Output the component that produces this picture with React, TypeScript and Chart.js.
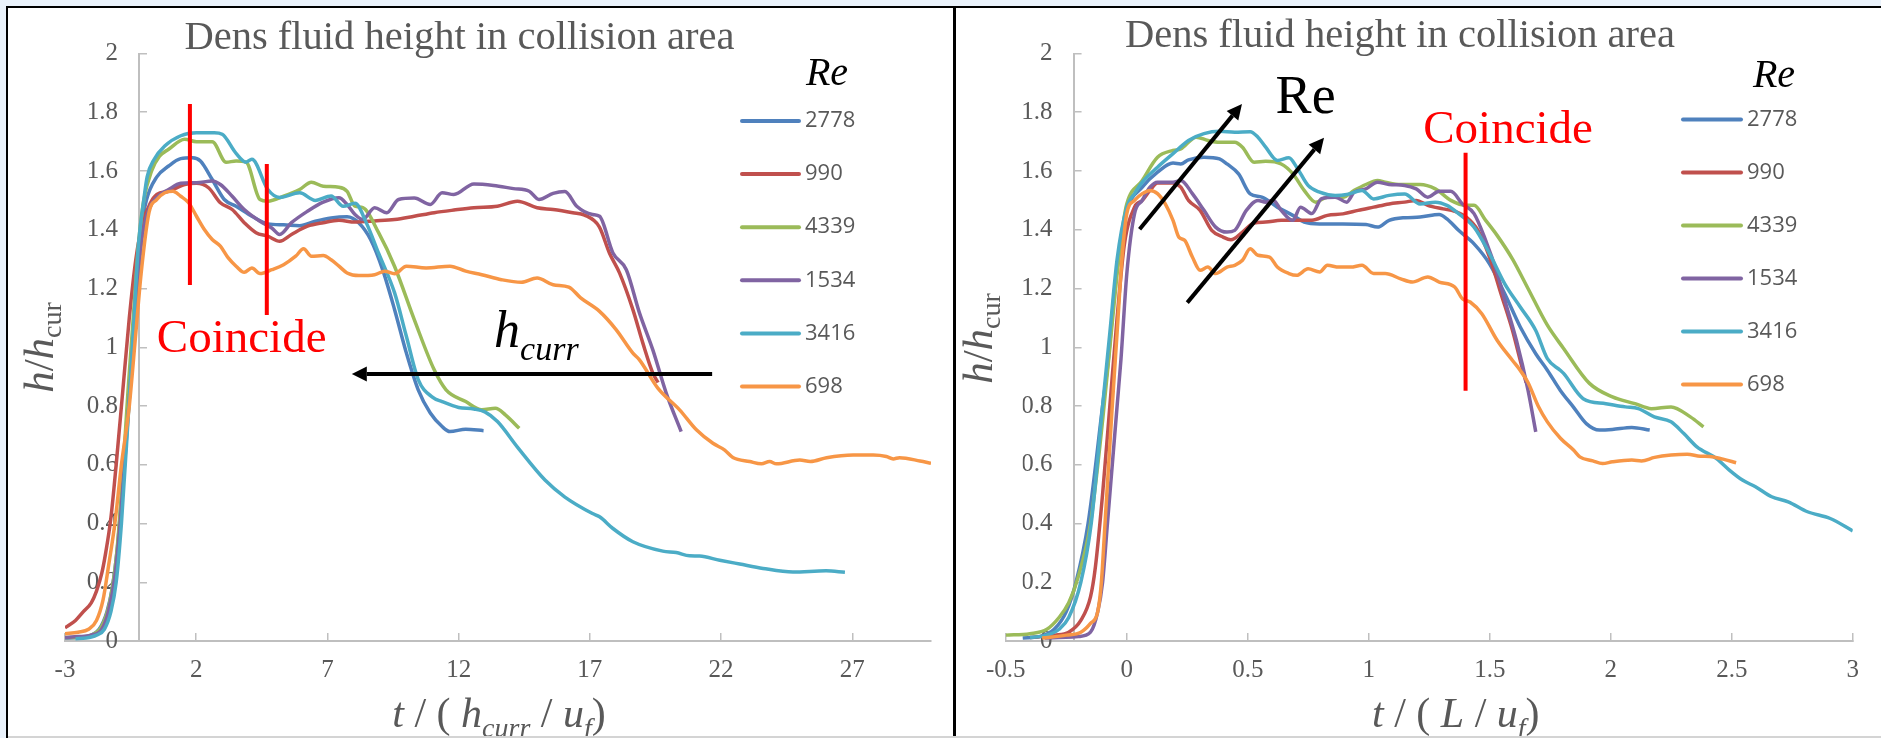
import React, { useEffect, useRef } from "react";
import { Chart, registerables } from "chart.js";

Chart.register(...registerables);

// ---------- data ----------
const SERIES_LABELS = ["2778", "990", "4339", "1534", "3416", "698"];
const SERIES_COLORS = ["#4f81bd", "#c0504d", "#9bbb59", "#8064a2", "#4bacc6", "#f79646"];

const Y_TICKS = [0, 0.2, 0.4, 0.6, 0.8, 1, 1.2, 1.4, 1.6, 1.8, 2];
const X_TICKS_LEFT = [-3, 2, 7, 12, 17, 22, 27];
const X_TICKS_RIGHT = [-0.5, 0, 0.5, 1, 1.5, 2, 2.5, 3];

// Left panel: x = t / (h_curr / u_f), y = h / h_cur
const L_2778: [number, number][] = [
  [-3, 0.01], [-2.5, 0.012], [-2, 0.02], [-1.7, 0.04], [-1.4, 0.1], [-1.2, 0.18], [-1.0, 0.32], [-0.8, 0.55],
  [-0.6, 0.8], [-0.4, 1.05], [-0.25, 1.25], [-0.1, 1.4], [0.1, 1.5], [0.5, 1.58], [0.95, 1.617], [1.41, 1.642],
  [1.86, 1.645], [2.16, 1.634], [2.61, 1.571], [3.07, 1.503], [3.52, 1.48], [4.12, 1.446], [4.73, 1.42],
  [5.33, 1.417], [5.94, 1.414], [6.54, 1.429], [7.14, 1.44], [7.75, 1.444], [8.2, 1.423], [8.65, 1.366],
  [9.1, 1.265], [9.56, 1.128], [10.01, 0.98], [10.46, 0.855], [10.92, 0.776], [11.37, 0.73], [11.67, 0.713],
  [12.27, 0.721], [12.95, 0.716],
];
const L_990: [number, number][] = [
  [-3, 0.045], [-2.6, 0.07], [-2.3, 0.1], [-2.0, 0.13], [-1.8, 0.17], [-1.6, 0.23], [-1.45, 0.3], [-1.25, 0.42],
  [-1.05, 0.6], [-0.8, 0.85], [-0.55, 1.1], [-0.3, 1.3], [-0.05, 1.42], [0.25, 1.49], [0.5, 1.52], [0.95, 1.531],
  [1.56, 1.554], [2.01, 1.558], [2.47, 1.543], [2.92, 1.492], [3.37, 1.469], [3.83, 1.424], [4.28, 1.39],
  [4.73, 1.378], [5.18, 1.361], [5.63, 1.384], [6.24, 1.412], [6.84, 1.424], [7.44, 1.432], [8.05, 1.426],
  [8.8, 1.43], [9.56, 1.435], [10.31, 1.446], [11.07, 1.458], [11.82, 1.467], [12.58, 1.475], [13.48, 1.48],
  [14.24, 1.497], [14.99, 1.475], [15.6, 1.469], [16.35, 1.458], [16.8, 1.45], [17.36, 1.41], [17.75, 1.32],
  [18.13, 1.253], [18.64, 1.128], [19.02, 1.014], [19.4, 0.912], [19.6, 0.88],
];
const L_4339: [number, number][] = [
  [-3, 0.012], [-2.5, 0.012], [-2, 0.02], [-1.6, 0.05], [-1.3, 0.13], [-1.05, 0.28], [-0.85, 0.5], [-0.6, 0.85],
  [-0.4, 1.1], [-0.2, 1.35], [0.0, 1.5], [0.3, 1.6], [0.6, 1.65], [0.95, 1.674], [1.56, 1.708], [2.01, 1.7],
  [2.61, 1.7], [3.14, 1.63], [3.52, 1.634], [3.9, 1.63], [4.43, 1.503], [4.73, 1.497], [5.33, 1.514],
  [5.94, 1.537], [6.39, 1.562], [6.84, 1.548], [7.44, 1.545], [7.75, 1.531], [8.05, 1.48], [8.35, 1.475],
  [8.95, 1.39], [9.56, 1.275], [10.31, 1.094], [11.07, 0.923], [11.52, 0.855], [12.27, 0.815], [12.88, 0.787],
  [13.4, 0.792], [13.78, 0.77], [14.31, 0.724],
];
const L_1534: [number, number][] = [
  [-3, 0.012], [-2.5, 0.015], [-2, 0.02], [-1.6, 0.04], [-1.35, 0.1], [-1.1, 0.22], [-0.9, 0.4], [-0.65, 0.7],
  [-0.45, 0.95], [-0.25, 1.2], [-0.05, 1.38], [0.2, 1.47], [0.5, 1.51], [0.95, 1.537], [1.41, 1.558],
  [2.01, 1.56], [2.61, 1.566], [2.92, 1.554], [3.37, 1.514], [3.83, 1.469], [4.43, 1.429], [4.88, 1.406],
  [5.18, 1.384], [5.63, 1.424], [6.24, 1.463], [6.84, 1.494], [7.44, 1.509], [7.75, 1.486], [8.05, 1.452],
  [8.35, 1.435], [8.8, 1.475], [9.26, 1.458], [9.71, 1.503], [10.31, 1.508], [10.92, 1.486], [11.37, 1.526],
  [11.82, 1.52], [12.58, 1.556], [13.33, 1.551], [14.09, 1.54], [14.69, 1.531], [15.06, 1.503], [15.6, 1.524],
  [16.05, 1.53], [16.5, 1.48], [17.1, 1.452], [17.37, 1.446], [17.88, 1.321], [18.39, 1.264], [18.89, 1.117],
  [19.4, 0.991], [19.91, 0.844], [20.48, 0.713],
];
const L_3416: [number, number][] = [
  [-2.6, 0.008], [-2.2, 0.01], [-1.8, 0.02], [-1.5, 0.04], [-1.25, 0.1], [-1.05, 0.2], [-0.85, 0.4],
  [-0.6, 0.75], [-0.4, 1.05], [-0.2, 1.35], [0.0, 1.5], [0.13, 1.58], [0.4, 1.64], [0.8, 1.685], [1.41, 1.72],
  [2.01, 1.73], [2.69, 1.73], [2.99, 1.725], [3.52, 1.66], [3.9, 1.63], [4.12, 1.64], [4.73, 1.537],
  [5.18, 1.51], [5.94, 1.526], [6.54, 1.5], [7.14, 1.515], [7.6, 1.48], [8.05, 1.49], [8.5, 1.42],
  [8.95, 1.32], [9.56, 1.185], [10.0, 1.04], [10.46, 0.89], [11.0, 0.83], [11.37, 0.815], [12.0, 0.795],
  [12.58, 0.79], [13.0, 0.78], [13.48, 0.747], [14.24, 0.66], [15.29, 0.548], [16.05, 0.49], [17.1, 0.434],
  [17.37, 0.423], [17.88, 0.383], [18.64, 0.338], [19.78, 0.306], [20.29, 0.301], [20.8, 0.29], [21.18, 0.289],
  [21.95, 0.275], [22.71, 0.262], [23.6, 0.247], [24.74, 0.235], [26.0, 0.239], [26.72, 0.234],
];
const L_698: [number, number][] = [
  [-3, 0.025], [-2.5, 0.03], [-2.1, 0.04], [-1.8, 0.07], [-1.55, 0.14], [-1.35, 0.25], [-1.1, 0.4],
  [-0.85, 0.6], [-0.55, 0.8], [-0.3, 1.05], [-0.1, 1.25], [0.2, 1.458], [0.5, 1.503], [0.8, 1.526],
  [1.11, 1.531], [1.41, 1.514], [1.71, 1.492], [2.01, 1.446], [2.31, 1.401], [2.61, 1.367], [2.92, 1.344],
  [3.22, 1.304], [3.52, 1.276], [3.83, 1.255], [4.12, 1.27], [4.43, 1.251], [4.88, 1.264], [5.33, 1.281],
  [5.79, 1.31], [6.09, 1.335], [6.39, 1.31], [6.84, 1.312], [7.14, 1.298], [7.44, 1.276], [7.75, 1.253],
  [8.2, 1.244], [8.8, 1.247], [9.18, 1.259], [9.56, 1.25], [10.01, 1.276], [10.76, 1.27], [11.67, 1.276],
  [12.27, 1.259], [12.88, 1.247], [13.63, 1.23], [14.39, 1.221], [14.99, 1.236], [15.6, 1.213], [16.2, 1.205],
  [16.65, 1.168], [17.37, 1.122], [18.0, 1.06], [18.64, 0.98], [18.89, 0.957], [19.59, 0.861], [20.42, 0.787],
  [21.06, 0.719], [21.69, 0.673], [22.14, 0.65], [22.45, 0.625], [23.09, 0.611], [23.54, 0.603], [23.85, 0.611],
  [24.11, 0.603], [25.0, 0.616], [25.4, 0.611], [26.02, 0.624], [27.03, 0.633], [27.8, 0.633], [28.3, 0.628],
  [28.56, 0.62], [28.8, 0.624], [29.58, 0.613], [30.0, 0.605],
];

// Right panel: x = t / (L / u_f), y = h / h_cur
const R_2778: [number, number][] = [
  [-0.43, 0.01], [-0.36, 0.015], [-0.3, 0.04], [-0.25, 0.1], [-0.21, 0.2], [-0.16, 0.4], [-0.1, 0.8],
  [-0.076, 0.96], [-0.05, 1.2], [-0.02, 1.38], [0.0, 1.466], [0.064, 1.545], [0.127, 1.596], [0.191, 1.627],
  [0.223, 1.624], [0.255, 1.638], [0.319, 1.647], [0.383, 1.641], [0.414, 1.624], [0.462, 1.59], [0.51, 1.522],
  [0.558, 1.511], [0.622, 1.477], [0.686, 1.449], [0.733, 1.426], [0.797, 1.42], [0.893, 1.42], [0.988, 1.418],
  [1.036, 1.409], [1.084, 1.432], [1.148, 1.441], [1.212, 1.443], [1.291, 1.452], [1.323, 1.437], [1.371, 1.398],
  [1.435, 1.352], [1.499, 1.284], [1.562, 1.182], [1.626, 1.069], [1.69, 0.978], [1.738, 0.922], [1.791, 0.854],
  [1.845, 0.797], [1.899, 0.74], [1.953, 0.718], [2.006, 0.72], [2.087, 0.727], [2.161, 0.718],
];
const R_990: [number, number][] = [
  [-0.4, 0.012], [-0.3, 0.02], [-0.24, 0.03], [-0.19, 0.07], [-0.15, 0.15], [-0.13, 0.25], [-0.1, 0.5],
  [-0.07, 0.8], [-0.04, 1.1], [-0.01, 1.35], [0.032, 1.477], [0.064, 1.5], [0.096, 1.534], [0.127, 1.559],
  [0.191, 1.559], [0.223, 1.545], [0.255, 1.5], [0.303, 1.466], [0.351, 1.398], [0.398, 1.375], [0.43, 1.366],
  [0.478, 1.392], [0.526, 1.423], [0.574, 1.426], [0.638, 1.432], [0.702, 1.432], [0.765, 1.432], [0.829, 1.449],
  [0.893, 1.454], [0.956, 1.466], [1.02, 1.477], [1.084, 1.488], [1.148, 1.494], [1.196, 1.5], [1.244, 1.483],
  [1.307, 1.471], [1.355, 1.463], [1.403, 1.443], [1.451, 1.398], [1.499, 1.307], [1.546, 1.183], [1.594, 1.057],
  [1.626, 0.955], [1.65, 0.88],
];
const R_4339: [number, number][] = [
  [-0.5, 0.02], [-0.4, 0.025], [-0.33, 0.04], [-0.28, 0.08], [-0.24, 0.13], [-0.2, 0.22], [-0.15, 0.4],
  [-0.1, 0.75], [-0.07, 1.0], [-0.04, 1.25], [-0.015, 1.42], [0.0, 1.488], [0.064, 1.568], [0.127, 1.647],
  [0.191, 1.67], [0.223, 1.675], [0.287, 1.715], [0.335, 1.704], [0.383, 1.698], [0.446, 1.698], [0.478, 1.681],
  [0.526, 1.63], [0.574, 1.633], [0.638, 1.624], [0.686, 1.591], [0.733, 1.534], [0.781, 1.494], [0.829, 1.511],
  [0.893, 1.511], [0.94, 1.534], [0.988, 1.554], [1.036, 1.568], [1.068, 1.562], [1.132, 1.554], [1.212, 1.554],
  [1.275, 1.539], [1.339, 1.5], [1.403, 1.483], [1.435, 1.483], [1.483, 1.432], [1.531, 1.38], [1.594, 1.3],
  [1.658, 1.2], [1.738, 1.075], [1.805, 0.996], [1.912, 0.877], [2.007, 0.831], [2.1, 0.808], [2.168, 0.791],
  [2.249, 0.797], [2.329, 0.763], [2.383, 0.729],
];
const R_1534: [number, number][] = [
  [-0.34, 0.01], [-0.2, 0.015], [-0.15, 0.03], [-0.12, 0.1], [-0.1, 0.2], [-0.08, 0.4], [-0.04, 0.8],
  [-0.024, 0.96], [0.0, 1.25], [0.032, 1.455], [0.064, 1.5], [0.096, 1.545], [0.127, 1.562], [0.191, 1.562],
  [0.223, 1.568], [0.271, 1.523], [0.319, 1.466], [0.367, 1.409], [0.414, 1.392], [0.446, 1.398], [0.494, 1.466],
  [0.542, 1.5], [0.574, 1.494], [0.606, 1.5], [0.638, 1.466], [0.686, 1.432], [0.718, 1.477], [0.765, 1.455],
  [0.805, 1.506], [0.861, 1.511], [0.909, 1.494], [0.94, 1.528], [0.988, 1.539], [1.036, 1.562], [1.084, 1.554],
  [1.148, 1.551], [1.196, 1.539], [1.244, 1.511], [1.291, 1.531], [1.339, 1.531], [1.387, 1.488], [1.435, 1.455],
  [1.483, 1.364], [1.531, 1.251], [1.562, 1.16], [1.61, 1.024], [1.658, 0.854], [1.69, 0.712],
];
const R_3416: [number, number][] = [
  [-0.4, 0.012], [-0.33, 0.02], [-0.28, 0.04], [-0.24, 0.08], [-0.19, 0.2], [-0.147, 0.4], [-0.1, 0.8],
  [-0.07, 1.05], [-0.04, 1.3], [0.0, 1.477], [0.032, 1.523], [0.064, 1.562], [0.127, 1.613], [0.191, 1.659],
  [0.255, 1.704], [0.319, 1.727], [0.383, 1.735], [0.446, 1.732], [0.51, 1.734], [0.542, 1.715], [0.574, 1.681],
  [0.622, 1.636], [0.67, 1.645], [0.702, 1.613], [0.749, 1.551], [0.797, 1.528], [0.861, 1.517], [0.909, 1.52],
  [0.972, 1.534], [1.02, 1.505], [1.084, 1.517], [1.148, 1.522], [1.212, 1.488], [1.275, 1.494], [1.323, 1.483],
  [1.371, 1.455], [1.435, 1.409], [1.499, 1.319], [1.562, 1.216], [1.626, 1.137], [1.69, 1.057], [1.738, 0.961],
  [1.791, 0.922], [1.805, 0.911], [1.886, 0.825], [1.98, 0.808], [2.06, 0.797], [2.114, 0.791], [2.18, 0.763],
  [2.249, 0.746], [2.302, 0.706], [2.356, 0.661], [2.437, 0.621], [2.49, 0.582], [2.544, 0.548], [2.598, 0.525],
  [2.665, 0.491], [2.733, 0.474], [2.813, 0.44], [2.907, 0.417], [3.0, 0.375],
];
const R_698: [number, number][] = [
  [-0.35, 0.01], [-0.25, 0.02], [-0.19, 0.03], [-0.15, 0.06], [-0.12, 0.1], [-0.105, 0.2], [-0.09, 0.4],
  [-0.06, 0.8], [-0.04, 1.05], [-0.02, 1.3], [0.0, 1.455], [0.032, 1.5], [0.064, 1.523], [0.096, 1.534],
  [0.127, 1.523], [0.159, 1.488], [0.191, 1.432], [0.215, 1.375], [0.239, 1.364], [0.271, 1.307], [0.303, 1.262],
  [0.335, 1.273], [0.367, 1.251], [0.414, 1.273], [0.446, 1.279], [0.478, 1.296], [0.51, 1.335], [0.542, 1.313],
  [0.59, 1.307], [0.622, 1.273], [0.67, 1.251], [0.702, 1.245], [0.749, 1.267], [0.797, 1.256], [0.829, 1.279],
  [0.877, 1.273], [0.925, 1.273], [0.972, 1.279], [1.02, 1.251], [1.068, 1.251], [1.132, 1.233], [1.18, 1.222],
  [1.244, 1.239], [1.291, 1.222], [1.355, 1.205], [1.387, 1.165], [1.419, 1.154], [1.467, 1.114], [1.531, 1.023],
  [1.594, 0.955], [1.626, 0.921], [1.658, 0.88], [1.7, 0.8], [1.738, 0.746], [1.792, 0.69], [1.846, 0.65],
  [1.872, 0.627], [1.926, 0.613], [1.966, 0.604], [2.007, 0.61], [2.087, 0.616], [2.127, 0.613], [2.181, 0.625],
  [2.249, 0.633], [2.316, 0.636], [2.37, 0.629], [2.41, 0.628], [2.464, 0.619], [2.518, 0.607],
];

const LEFT_SERIES = [L_2778, L_990, L_4339, L_1534, L_3416, L_698];
const RIGHT_SERIES = [R_2778, R_990, R_4339, R_1534, R_3416, R_698];

// ---------- styling / layout ----------
const H = 738;
const SERIF = '"Liberation Serif", "Times New Roman", serif';
const SANS = '"Open Sans", "Noto Sans", sans-serif';
const GRAY_TEXT = "#595959";
const AXIS_GRAY = "#bfbfbf";

type Run = { t: string; f: string; dy?: number };

function runsWidth(ctx: CanvasRenderingContext2D, runs: Run[]) {
  let w = 0;
  for (const r of runs) {
    ctx.font = r.f;
    w += ctx.measureText(r.t).width;
  }
  return w;
}
function drawRuns(ctx: CanvasRenderingContext2D, runs: Run[], x: number, y: number, align: "left" | "center") {
  ctx.textAlign = "left";
  ctx.textBaseline = "alphabetic";
  let cx = align === "center" ? x - runsWidth(ctx, runs) / 2 : x;
  for (const r of runs) {
    ctx.font = r.f;
    ctx.fillText(r.t, cx, y + (r.dy || 0));
    cx += ctx.measureText(r.t).width;
  }
}
function arrow(ctx: CanvasRenderingContext2D, x1: number, y1: number, x2: number, y2: number) {
  const ang = Math.atan2(y2 - y1, x2 - x1);
  const hl = 15, hw = 7.5;
  const bx = x2 - hl * Math.cos(ang), by = y2 - hl * Math.sin(ang);
  ctx.strokeStyle = "#000";
  ctx.fillStyle = "#000";
  ctx.lineWidth = 4;
  ctx.lineCap = "butt";
  ctx.beginPath();
  ctx.moveTo(x1, y1);
  ctx.lineTo(bx, by);
  ctx.stroke();
  ctx.beginPath();
  ctx.moveTo(x2, y2);
  ctx.lineTo(bx + hw * Math.sin(ang), by - hw * Math.cos(ang));
  ctx.lineTo(bx - hw * Math.sin(ang), by + hw * Math.cos(ang));
  ctx.closePath();
  ctx.fill();
}

type PanelCfg = {
  width: number;
  left: number;
  series: [number, number][][];
  xMin: number;
  xMax: number;
  xTicks: number[];
  yCross: number;
  chartLeft: number;
  chartRight: number;
  chartTop: number;
  chartBottom: number;
  titleX: number;
  titleY: number;
  yTitleX: number;
  yTitleY: number;
  xTitleX: number;
  xTitleY: number;
  xTitle: Run[];
  legend: { x0: number; x1: number; tx: number; y0: number; dy: number; reX: number; reY: number };
  annotate: (ctx: CanvasRenderingContext2D, px: (v: number) => number, py: (v: number) => number) => void;
};

const MAIN = 42;
const SUB = 28;
const LEFT_CFG: PanelCfg = {
  width: 955,
  left: 0,
  series: LEFT_SERIES,
  xMin: -3,
  xMax: 30,
  xTicks: X_TICKS_LEFT,
  yCross: -0.18,
  chartLeft: 65,
  chartRight: 931,
  chartTop: 53.5,
  chartBottom: 641,
  titleX: 459.5,
  titleY: 48.5,
  yTitleX: 53,
  yTitleY: 347.5,
  xTitleX: 499,
  xTitleY: 727,
  xTitle: [
    { t: "t", f: `italic ${MAIN}px ${SERIF}` },
    { t: " / ( ", f: `${MAIN}px ${SERIF}` },
    { t: "h", f: `italic ${MAIN}px ${SERIF}` },
    { t: "curr", f: `italic ${SUB}px ${SERIF}`, dy: 10 },
    { t: " / ", f: `${MAIN}px ${SERIF}` },
    { t: "u", f: `italic ${MAIN}px ${SERIF}` },
    { t: "f", f: `italic ${SUB}px ${SERIF}`, dy: 10 },
    { t: ")", f: `${MAIN}px ${SERIF}` },
  ],
  legend: { x0: 742, x1: 799, tx: 805, y0: 121, dy: 53.1, reX: 827, reY: 85 },
  annotate: (ctx, px, py) => {
    ctx.strokeStyle = "#ff0000";
    ctx.lineWidth = 4;
    ctx.lineCap = "butt";
    for (const [x, a, b] of [[1.76, 1.212, 1.828], [4.69, 1.11, 1.624]]) {
      ctx.beginPath();
      ctx.moveTo(px(x), py(a));
      ctx.lineTo(px(x), py(b));
      ctx.stroke();
    }
    ctx.fillStyle = "#ff0000";
    drawRuns(ctx, [{ t: "Coincide", f: `47px ${SERIF}` }], px(0.5), py(0.985), "left");
    ctx.fillStyle = "#000";
    drawRuns(
      ctx,
      [
        { t: "h", f: `italic 52px ${SERIF}` },
        { t: "curr", f: `italic 34px ${SERIF}`, dy: 13 },
      ],
      px(13.35),
      py(1.002),
      "left"
    );
    arrow(ctx, px(21.66), py(0.909), px(7.93), py(0.909));
  },
};

const RIGHT_CFG: PanelCfg = {
  width: 926,
  left: 955,
  series: RIGHT_SERIES,
  xMin: -0.5,
  xMax: 3,
  xTicks: X_TICKS_RIGHT,
  yCross: -0.22,
  chartLeft: 50.8,
  chartRight: 917.7,
  chartTop: 53.5,
  chartBottom: 641,
  titleX: 445,
  titleY: 46.5,
  yTitleX: 36.7,
  yTitleY: 338.5,
  xTitleX: 500.8,
  xTitleY: 727,
  xTitle: [
    { t: "t", f: `italic ${MAIN}px ${SERIF}` },
    { t: " / ( ", f: `${MAIN}px ${SERIF}` },
    { t: "L", f: `italic ${MAIN}px ${SERIF}` },
    { t: " / ", f: `${MAIN}px ${SERIF}` },
    { t: "u", f: `italic ${MAIN}px ${SERIF}` },
    { t: "f", f: `italic ${SUB}px ${SERIF}`, dy: 10 },
    { t: ")", f: `${MAIN}px ${SERIF}` },
  ],
  legend: { x0: 728, x1: 786, tx: 792, y0: 119.5, dy: 53, reX: 819, reY: 86.5 },
  annotate: (ctx, px, py) => {
    ctx.strokeStyle = "#ff0000";
    ctx.lineWidth = 4;
    ctx.lineCap = "butt";
    ctx.beginPath();
    ctx.moveTo(px(1.4), py(0.852));
    ctx.lineTo(px(1.4), py(1.662));
    ctx.stroke();
    ctx.fillStyle = "#ff0000";
    drawRuns(ctx, [{ t: "Coincide", f: `47px ${SERIF}` }], px(1.225), py(1.694), "left");
    ctx.fillStyle = "#000";
    drawRuns(ctx, [{ t: "Re", f: `54px ${SERIF}` }], px(0.615), py(1.797), "left");
    arrow(ctx, px(0.053), py(1.402), px(0.476), py(1.828));
    arrow(ctx, px(0.25), py(1.152), px(0.815), py(1.713));
  },
};

function makePlugin(cfg: PanelCfg) {
  return {
    id: "panelDecor",
    afterLayout(chart: any) {
      const xs = chart.scales.x;
      const ys = chart.scales.y;
      const p = xs.getPixelForValue(cfg.yCross);
      const w = ys.right - ys.left;
      ys.right = p;
      ys.left = p - w;
    },
    afterDraw(chart: any) {
      const ctx: CanvasRenderingContext2D = chart.ctx;
      const xs = chart.scales.x;
      const ys = chart.scales.y;
      const px = (v: number) => xs.getPixelForValue(v);
      const py = (v: number) => ys.getPixelForValue(v);
      ctx.save();
      // title
      ctx.fillStyle = GRAY_TEXT;
      drawRuns(ctx, [{ t: "Dens fluid height in collision area", f: `40.5px ${SERIF}` }], cfg.titleX, cfg.titleY, "center");
      // y title (rotated)
      ctx.save();
      ctx.translate(cfg.yTitleX, cfg.yTitleY);
      ctx.rotate(-Math.PI / 2);
      ctx.fillStyle = GRAY_TEXT;
      drawRuns(
        ctx,
        [
          { t: "h", f: `italic 43px ${SERIF}` },
          { t: "/", f: `43px ${SERIF}` },
          { t: "h", f: `italic 43px ${SERIF}` },
          { t: "cur", f: `28px ${SERIF}`, dy: 8 },
        ],
        0,
        0,
        "center"
      );
      ctx.restore();
      // x title
      ctx.fillStyle = GRAY_TEXT;
      drawRuns(ctx, cfg.xTitle, cfg.xTitleX, cfg.xTitleY, "center");
      // legend
      const lg = cfg.legend;
      ctx.fillStyle = "#000";
      ctx.font = `italic 40px ${SERIF}`;
      ctx.textAlign = "center";
      ctx.textBaseline = "alphabetic";
      ctx.fillText("Re", lg.reX, lg.reY);
      chart.data.datasets.forEach((ds: any, i: number) => {
        const y = lg.y0 + i * lg.dy;
        ctx.strokeStyle = ds.borderColor;
        ctx.lineWidth = 4;
        ctx.lineCap = "round";
        ctx.beginPath();
        ctx.moveTo(lg.x0, y);
        ctx.lineTo(lg.x1, y);
        ctx.stroke();
        ctx.fillStyle = GRAY_TEXT;
        ctx.font = `22px ${SANS}`;
        ctx.textAlign = "left";
        ctx.textBaseline = "middle";
        ctx.fillText(ds.label, lg.tx, y);
      });
      // annotations
      cfg.annotate(ctx, px, py);
      ctx.restore();
    },
  };
}

function buildConfig(cfg: PanelCfg): any {
  const datasets = cfg.series.map((pts, i) => ({
    label: SERIES_LABELS[i],
    data: pts.map(([x, y]) => ({ x, y })),
    borderColor: SERIES_COLORS[i],
    backgroundColor: SERIES_COLORS[i],
    borderWidth: 3.5,
    pointRadius: 0,
    fill: false,
    cubicInterpolationMode: "monotone",
    order: SERIES_LABELS.length - i,
  }));
  const tickFont = { family: SERIF, size: 25 };
  return {
    type: "line",
    data: { datasets },
    options: {
      animation: false,
      responsive: false,
      maintainAspectRatio: false,
      events: [],
      layout: {
        padding: { top: cfg.chartTop, right: cfg.width - cfg.chartRight, bottom: 0, left: 0 },
      },
      plugins: { legend: { display: false }, tooltip: { enabled: false }, title: { display: false } },
      scales: {
        x: {
          type: "linear",
          position: "bottom",
          min: cfg.xMin,
          max: cfg.xMax,
          afterBuildTicks: (s: any) => {
            s.ticks = cfg.xTicks.map((v) => ({ value: v }));
          },
          afterFit: (s: any) => {
            s.height = H - cfg.chartBottom;
          },
          ticks: {
            font: tickFont,
            color: GRAY_TEXT,
            padding: 22,
            maxRotation: 0,
            autoSkip: false,
            callback: (v: number) => String(v),
          },
          grid: { display: true, drawOnChartArea: false, drawTicks: true, tickLength: -8, color: AXIS_GRAY, lineWidth: 1.5 },
          border: { display: true, color: AXIS_GRAY, width: 2 },
        },
        y: {
          type: "linear",
          position: "left",
          min: 0,
          max: 2,
          afterBuildTicks: (s: any) => {
            s.ticks = Y_TICKS.map((v) => ({ value: v }));
          },
          afterFit: (s: any) => {
            s.width = cfg.chartLeft;
          },
          ticks: {
            font: tickFont,
            color: GRAY_TEXT,
            padding: 29,
            autoSkip: false,
            callback: (v: number) => String(Math.round(v * 10) / 10),
          },
          grid: { display: true, drawOnChartArea: false, drawTicks: true, tickLength: -8, color: AXIS_GRAY, lineWidth: 1.5 },
          border: { display: true, color: AXIS_GRAY, width: 2 },
        },
      },
    },
    plugins: [makePlugin(cfg)],
  };
}

function Panel({ cfg }: { cfg: PanelCfg }) {
  const ref = useRef<HTMLCanvasElement>(null);
  useEffect(() => {
    const chart = new Chart(ref.current as HTMLCanvasElement, buildConfig(cfg));
    return () => chart.destroy();
  }, [cfg]);
  return (
    <canvas
      ref={ref}
      width={cfg.width}
      height={H}
      style={{ position: "absolute", left: cfg.left, top: 0, width: cfg.width, height: H, display: "block" }}
    />
  );
}

export default function App() {
  const strip = "#eaf2fb";
  return (
    <div style={{ position: "absolute", left: 0, top: 0, width: 1881, height: H, background: "#fff", overflow: "hidden" }}>
      <Panel cfg={LEFT_CFG} />
      <Panel cfg={RIGHT_CFG} />
      <div style={{ position: "absolute", left: 0, top: 0, width: 1881, height: 6, background: strip }} />
      <div style={{ position: "absolute", left: 0, top: 0, width: 6, height: H, background: strip }} />
      <div style={{ position: "absolute", left: 6, top: 6, width: 1875, height: 2, background: "#000" }} />
      <div style={{ position: "absolute", left: 6, top: 6, width: 2, height: H - 6, background: "#000" }} />
      <div style={{ position: "absolute", left: 953, top: 6, width: 3, height: H - 6, background: "#000" }} />
      <div style={{ position: "absolute", left: 8, top: 736, width: 1873, height: 2, background: "#d4d4d4" }} />
    </div>
  );
}
